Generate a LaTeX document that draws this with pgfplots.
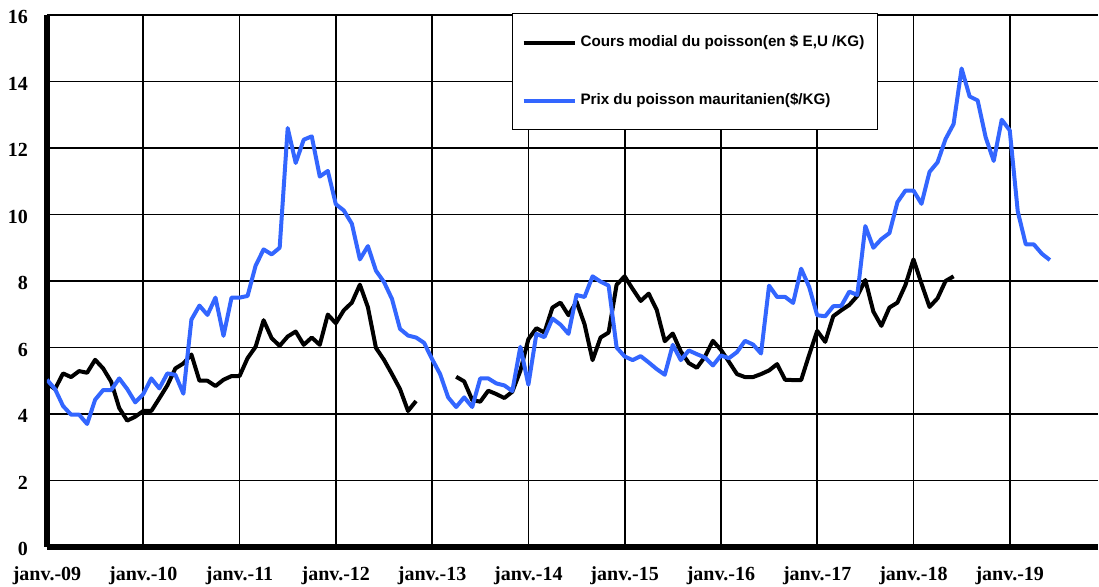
\documentclass[border=0pt]{standalone}
\usepackage{fontspec}
\setmainfont{Liberation Serif}
\newfontfamily\legfont{Liberation Sans}
\usepackage{pgfplots}
\usepackage{pgfplotstable}
\pgfplotsset{compat=1.18}
\definecolor{prixblue}{RGB}{51,102,255}

% m = months since janv. 2009
\pgfplotstableread{
m cours prix
0 4.92 5.03
1 4.75 4.75
2 5.22 4.24
3 5.11 3.98
4 5.29 3.98
5 5.24 3.70
6 5.63 4.43
7 5.37 4.72
8 4.97 4.72
9 4.18 5.07
10 3.80 4.75
11 3.92 4.35
12 4.09 4.60
13 4.09 5.07
14 4.47 4.77
15 4.86 5.22
16 5.37 5.18
17 5.52 4.61
18 5.79 6.84
19 5.00 7.26
20 5.00 6.98
21 4.84 7.50
22 5.03 6.35
23 5.14 7.50
24 5.14 7.50
25 5.68 7.55
26 6.02 8.46
27 6.82 8.95
28 6.28 8.80
29 6.05 9.00
30 6.33 12.60
31 6.48 11.55
32 6.08 12.25
33 6.30 12.35
34 6.08 11.14
35 6.99 11.31
36 6.73 10.31
37 7.12 10.12
38 7.35 9.72
39 7.89 8.65
40 7.21 9.05
41 5.99 8.31
42 5.63 7.97
43 5.20 7.46
44 4.75 6.56
45 4.09 6.36
46 4.39 6.30
47 nan 6.14
48 nan 5.65
49 nan 5.20
50 nan 4.50
51 5.12 4.21
52 4.98 4.50
53 4.42 4.21
54 4.37 5.07
55 4.70 5.07
56 4.60 4.92
57 4.48 4.86
58 4.67 4.69
59 5.30 6.02
60 6.25 4.88
61 6.58 6.41
62 6.45 6.31
63 7.20 6.87
64 7.35 6.69
65 6.97 6.41
66 7.38 7.58
67 6.70 7.52
68 5.62 8.14
69 6.30 7.98
70 6.45 7.86
71 7.89 6.00
72 8.14 5.73
73 7.76 5.62
74 7.40 5.74
75 7.62 5.55
76 7.13 5.35
77 6.19 5.18
78 6.42 6.08
79 5.88 5.62
80 5.53 5.91
81 5.39 5.80
82 5.72 5.70
83 6.20 5.46
84 5.93 5.76
85 5.57 5.68
86 5.20 5.86
87 5.11 6.20
88 5.11 6.09
89 5.20 5.82
90 5.31 7.86
91 5.50 7.52
92 5.03 7.52
93 5.02 7.34
94 5.02 8.37
95 5.78 7.82
96 6.50 6.97
97 6.17 6.94
98 6.94 7.24
99 7.12 7.25
100 7.28 7.68
101 7.55 7.58
102 8.03 9.65
103 7.08 9.00
104 6.65 9.26
105 7.20 9.44
106 7.35 10.37
107 7.88 10.72
108 8.65 10.72
109 7.92 10.32
110 7.22 11.28
111 7.48 11.57
112 8.00 12.27
113 8.14 12.72
114 nan 14.39
115 nan 13.55
116 nan 13.43
117 nan 12.32
118 nan 11.61
119 nan 12.85
120 nan 12.53
121 nan 10.09
122 nan 9.10
123 nan 9.10
124 nan 8.82
125 nan 8.63
}\poissondata

\begin{document}
\begin{tikzpicture}
\path[use as bounding box] (-23.5pt,-20pt) rectangle (526pt,273.5pt);
\begin{axis}[
    at={(0pt,0pt)}, anchor=south west,
    scale only axis, width=525.5pt, height=266pt,
    xmin=0, xmax=131, ymin=0, ymax=16,
    xtick={0,12,...,120},
    xticklabels={janv.-09,janv.-10,janv.-11,janv.-12,janv.-13,janv.-14,janv.-15,janv.-16,janv.-17,janv.-18,janv.-19},
    ytick={0,2,...,16},
    grid=major,
    grid style={black, line width=0.85pt},
    axis lines*=left,
    axis line style={line width=2.8pt, -},
    major tick length=0pt,
    tick label style={font=\bfseries\fontsize{10}{12}\selectfont},
    /pgf/number format/assume math mode=true,
    xticklabel style={yshift=-6.4pt},
    yticklabel style={xshift=-6pt, yshift=-1pt},
    unbounded coords=jump,
    legend image code/.code={\draw[#1] (0pt,0pt) -- (25.5pt,0pt);},
    legend style={at={(0.4424,1.0038)}, anchor=north west,
        draw=black, line width=0.6pt,
        font=\legfont\bfseries\fontsize{7.6}{9}\selectfont,
        inner xsep=4.5pt, inner ysep=9pt, row sep=17.8pt,
        cells={anchor=west}},
]
\addplot[black, line width=2pt, line join=round] table[x=m, y=cours] {\poissondata};
\addplot[prixblue, line width=2pt, line join=round] table[x=m, y=prix] {\poissondata};
\legend{{Cours modial du poisson(en \$ E,U /KG)}, {Prix du poisson mauritanien(\$/KG)}}
\end{axis}
\end{tikzpicture}
\end{document}
